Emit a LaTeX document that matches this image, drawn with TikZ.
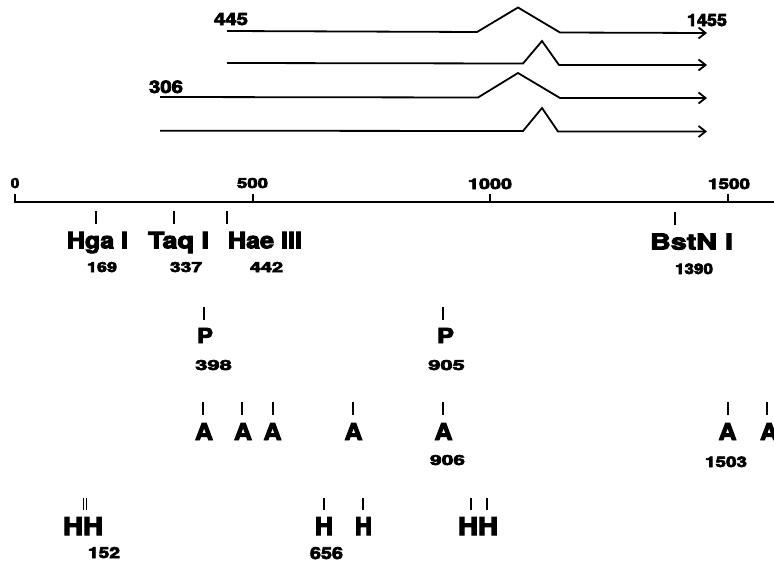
\documentclass[tikz,border=0pt]{standalone}
\usepackage{fontspec}
\usepackage{graphicx}
\setmainfont{TeX Gyre Heros}[BoldFeatures={FakeBold=4}]
\usetikzlibrary{arrows.meta}
\newcommand{\fitlab}[3]{\resizebox{#1pt}{#2pt}{\bfseries #3}}
\begin{document}
\begin{tikzpicture}[x=1pt,y=-1pt,
  lab/.style={inner sep=0pt,anchor=base},
  tickmark/.style={line width=1.5pt},
  strand/.style={line width=1.8pt,line join=miter,-{Straight Barb[length=7pt,width=11pt,line width=1.8pt]}},
  axisline/.style={line width=1.8pt}]
\clip (0,0) rectangle (774,562);
\fill[white] (0,0) rectangle (774,562);

% ---- transcripts / strands ----
\coordinate (s1a) at (227,31);   \coordinate (s1b) at (477,32);
\coordinate (s1c) at (518,7.5);  \coordinate (s1d) at (560,32.5);
\coordinate (s1e) at (707,33);
\draw[strand] (s1a) -- (s1b) -- (s1c) -- (s1d) -- (s1e);

\coordinate (s2a) at (227,63);   \coordinate (s2b) at (523,63.5);
\coordinate (s2c) at (542,41);   \coordinate (s2d) at (559,65);
\coordinate (s2e) at (707,65);
\draw[strand] (s2a) -- (s2b) -- (s2c) -- (s2d) -- (s2e);

\coordinate (s3a) at (160,97);   \coordinate (s3b) at (478,97.5);
\coordinate (s3c) at (518,73);   \coordinate (s3d) at (560,98);
\coordinate (s3e) at (707,98);
\draw[strand] (s3a) -- (s3b) -- (s3c) -- (s3d) -- (s3e);

\coordinate (s4a) at (160,130.7); \coordinate (s4b) at (523,131);
\coordinate (s4c) at (542,108);   \coordinate (s4d) at (558,131.5);
\coordinate (s4e) at (707,131.5);
\draw[strand] (s4a) -- (s4b) -- (s4c) -- (s4d) -- (s4e);

\node[lab] (l445)  at (231,25)  {\fitlab{34}{12}{445}};
\node[lab] (l1455) at (707,26)  {\fitlab{40}{12}{1455}};
\node[lab] (l306)  at (166,93)  {\fitlab{34}{12.5}{306}};

% ---- scale ----
\coordinate (ax0) at (15,202); \coordinate (ax1) at (776,202);
\draw[axisline] (ax0) -- (ax1);
\foreach \x in {15,253,490,728}{
  \draw[tickmark] (\x,202.5) -- (\x,194);
}
\node[lab] (n0)    at (15,188)  {\fitlab{8.5}{10}{0}};
\node[lab] (n500)  at (252.5,188) {\fitlab{31}{10}{500}};
\node[lab] (n1000) at (490,189) {\fitlab{44}{10.5}{1000}};
\node[lab] (n1500) at (729,189) {\fitlab{42}{10.5}{1500}};

% ---- restriction sites ----
\foreach \x in {96,174,227}{ \draw[tickmark] (\x,211) -- (\x,224); }
\draw[tickmark] (675,212) -- (675,225);
\node[lab] (hga)  at (97.5,248.3) {\fitlab{61}{16.5}{Hga I}};
\node[lab] (taq)  at (178.5,248.3) {\fitlab{61}{16.5}{Taq I}};
\node[lab] (hae)  at (265,248.3) {\fitlab{74}{16.5}{Hae III}};
\node[lab] (bst)  at (691.5,249.5) {\fitlab{83}{16}{BstN I}};
\node[lab] (n169) at (102,272) {\fitlab{30}{10}{169}};
\node[lab] (n337) at (186,272) {\fitlab{32}{10}{337}};
\node[lab] (n442) at (266.5,272) {\fitlab{33}{10}{442}};
\node[lab] (n1390) at (694,274) {\fitlab{38}{10.5}{1390}};

% ---- P row ----
\foreach \x in {204,443}{ \draw[tickmark] (\x,307) -- (\x,320); }
\node[lab] (p1) at (205,343) {\fitlab{16}{15}{P}};
\node[lab] (p2) at (445.5,343) {\fitlab{17}{15}{P}};
\node[lab] (n398) at (213.5,370) {\fitlab{36.5}{10}{398}};
\node[lab] (n905) at (446.5,370) {\fitlab{36.5}{10}{905}};

% ---- A row ----
\foreach \x in {203,242,273,353,443,728,767}{ \draw[tickmark] (\x,402) -- (\x,415); }
\foreach \x/\n in {204/a1,243/a2,272.5/a3,353.5/a4,443.5/a5,727.5/a6,769/a7}{
  \node[lab] (\n) at (\x,440) {\fitlab{18}{17}{A}};
}
\node[lab] (n906)  at (447.5,465) {\fitlab{35}{10}{906}};
\node[lab] (n1503) at (726,467) {\fitlab{42}{10.5}{1503}};

% ---- H row ----
\draw[line width=1.1pt] (83.3,498) -- (83.3,510);
\draw[line width=1.1pt] (86.2,498) -- (86.2,510);
\foreach \x in {324,363,471,487}{ \draw[tickmark] (\x,498) -- (\x,510); }
\node[lab] (hh1) at (83,535) {\fitlab{40}{18}{HH}};
\node[lab] (h1)  at (324,535) {\fitlab{18}{18}{H}};
\node[lab] (h2)  at (363.5,535) {\fitlab{17}{18}{H}};
\node[lab] (hh2) at (478,535) {\fitlab{40}{18}{HH}};
\node[lab] (n152) at (104,558) {\fitlab{32}{11}{152}};
\node[lab] (n656) at (326.5,559) {\fitlab{33}{12}{656}};
\end{tikzpicture}
\end{document}
